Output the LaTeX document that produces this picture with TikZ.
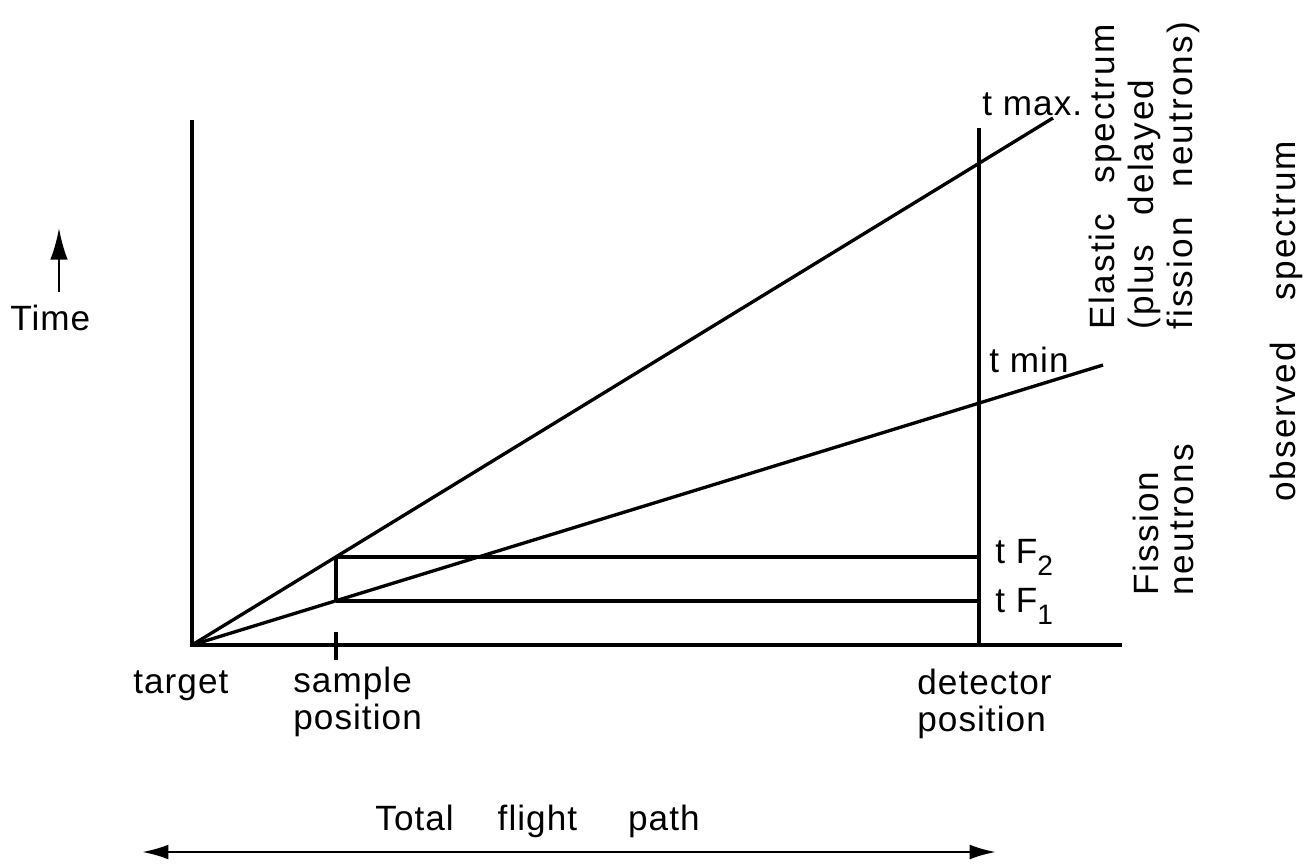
\documentclass[tikz,border=0pt]{standalone}
\usepackage{fontspec}
\setmainfont[LetterSpace=3]{Liberation Sans}
\usetikzlibrary{arrows.meta}
\tikzset{
  ln/.style={line width=1.9pt},
  lbl/.style={inner sep=0pt, font=\fontsize{20}{21}\selectfont},
  vlbl/.style={inner sep=0pt, rotate=90, align=left},
  arrw/.style={line width=1.5pt, -{Latex[length=18pt,width=10pt]}},
  darrw/.style={line width=1.5pt, {Latex[length=15pt,width=8.5pt]}-{Latex[length=15pt,width=8.5pt]}}
}
\begin{document}
\begin{tikzpicture}[x=0.02cm,y=-0.02cm]
\useasboundingbox (0,0) rectangle (1311,863);
% key points
\coordinate (O) at (192,645);
\coordinate (Ytop) at (192,120);
\coordinate (Xend) at (1122,645);
\coordinate (Dtop) at (979,128);
\coordinate (Dbot) at (979,645);
\coordinate (U) at (1053,118);
\coordinate (L) at (1103,365);
\coordinate (SU) at (336,557);
\coordinate (SL) at (336,601);
\coordinate (DU) at (979,557);
\coordinate (DL) at (979,601);
\coordinate (Tt) at (336,632);
\coordinate (Tb) at (336,660);
\coordinate (TA1) at (59,292);
\coordinate (TA2) at (59,228);
\coordinate (FA1) at (142,852);
\coordinate (FA2) at (996,852);
% axes and lines
\draw[ln] (Ytop) -- (O) -- (Xend);
\draw[ln] (Dtop) -- (Dbot);
\draw[ln] (O) -- (U);
\draw[ln] (O) -- (L);
\draw[ln] (Tt) -- (Tb);
\draw[ln] (SU) -- (SL);
\draw[ln] (SU) -- (DU);
\draw[ln] (SL) -- (DL);
\draw[arrw] (TA1) -- (TA2);
\draw[darrw] (FA1) -- (FA2);
% labels
\node[lbl, anchor=base west] (time) at (10,330) {Time};
\node[lbl, anchor=base west] (target) at (133,693) {target};
\node[lbl, anchor=north west, align=left] (sample) at (293,667) {sample\\position};
\node[lbl, anchor=north west, align=left] (detector) at (917,669) {detector\\position};
\node[lbl, anchor=base west] (tmax) at (982,115) {t max.};
\node[lbl, anchor=base west] (tmin) at (989,372) {t min};
\node[lbl, anchor=base west] (tf2) at (995,563) {t F\raisebox{-7pt}{\fontsize{16}{16}\selectfont 2}};
\node[lbl, anchor=base west] (tf1) at (995,612) {t F\raisebox{-7pt}{\fontsize{16}{16}\selectfont 1}};
\node[lbl, anchor=base west] (total) at (375,830) {Total\hspace{1.25em}flight\hspace{1.45em}path};
\node[vlbl, anchor=north west, font=\fontsize{20}{22}\selectfont\addfontfeature{LetterSpace=6}] (elastic) at (1089,330)
  {Elastic\hspace{0.85em}spectrum\\(plus\hspace{0.85em}delayed\\fission\hspace{0.85em}neutrons)};
\node[vlbl, anchor=north west, font=\fontsize{20}{20}\selectfont\addfontfeature{LetterSpace=6}] (fission) at (1133,596)
  {Fission\\neutrons};
\node[vlbl, anchor=base west, font=\fontsize{20}{20}\selectfont\addfontfeature{LetterSpace=6}] (observed) at (1295,502)
  {observed\hspace{1.2em}spectrum};
\end{tikzpicture}
\end{document}
